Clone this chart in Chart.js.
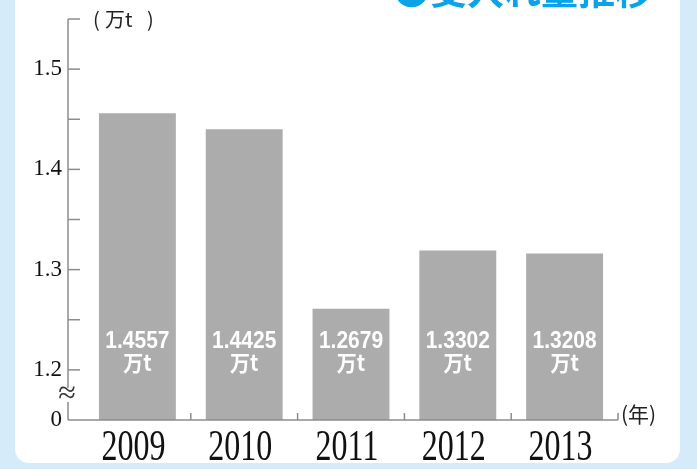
<!DOCTYPE html>
<html>
<head>
<meta charset="utf-8">
<script src="https://cdn.jsdelivr.net/npm/chart.js@4"></script>
<style>
  html, body { margin: 0; padding: 0; background: #d5ebfa; }
  #wrap { position: relative; width: 697px; height: 469px; overflow: hidden; }
  #panel { position: absolute; left: 15px; top: -30px; width: 665px; height: 493px;
           background: #fff; border-radius: 14px; }
  #chartBox { position: absolute; left: 0; top: 0; width: 697px; height: 469px; }
</style>
</head>
<body>
<div id="wrap">
  <div id="panel"></div>
  <div id="chartBox"><canvas id="acceptChart" width="697" height="469"></canvas></div>
</div>
<script>
// 受入れ量推移 (万t)
var years = ['2009', '2010', '2011', '2012', '2013'];
var barHeights = [1.456, 1.440, 1.261, 1.319, 1.316];   // as drawn in the picture
var barLabels = ['1.4557', '1.4425', '1.2679', '1.3302', '1.3208'];
var yLabels = { 115: '0', 120: '1.2', 130: '1.3', 140: '1.4', 150: '1.5' };

var axisColor = '#8c8c8c';

// axis lines, tick marks, labels drawn over the library scales
var decorPlugin = {
    id: 'decor',
    afterDatasetsDraw: function (chart) {
        var ctx = chart.ctx;
        var x = chart.scales.x, y = chart.scales.y;
        var area = chart.chartArea;
        var axisX = area.left - 16;
        ctx.save();
        ctx.strokeStyle = axisColor;
        ctx.lineWidth = 1.5;

        // y axis line
        ctx.beginPath();
        ctx.moveTo(axisX, y.getPixelForValue(1.55));
        ctx.lineTo(axisX, area.bottom);
        ctx.stroke();
        // y tick marks (major + minor), pointing right
        y.ticks.forEach(function (t) {
            var v = Math.round(t.value * 100);
            if (v < 120) return;
            var py = y.getPixelForValue(t.value);
            ctx.beginPath();
            ctx.moveTo(axisX, py);
            ctx.lineTo(axisX + 12, py);
            ctx.stroke();
        });

        // baseline with small up ticks between categories
        ctx.beginPath();
        ctx.moveTo(axisX, area.bottom);
        ctx.lineTo(area.right, area.bottom);
        ctx.stroke();
        var half = (x.getPixelForValue(1) - x.getPixelForValue(0)) / 2;
        for (var i = 0; i < years.length; i++) {
            var bx = x.getPixelForValue(i) + half;
            ctx.beginPath();
            ctx.moveTo(bx, area.bottom);
            ctx.lineTo(bx, area.bottom - 7);
            ctx.stroke();
        }

        // break mark
        var by = y.getPixelForValue(1.175);
        ctx.fillStyle = '#fff';
        ctx.fillRect(axisX - 3, by - 7, 6, 14);
        ctx.fillStyle = '#333';
        ctx.font = '32px "Liberation Serif"';
        ctx.textAlign = 'center';
        ctx.textBaseline = 'middle';
        ctx.fillText('\u2248', axisX - 1, by);

        // value labels inside bars
        var meta = chart.getDatasetMeta(0);
        ctx.fillStyle = '#fff';
        meta.data.forEach(function (bar, i) {
            ctx.save();
            ctx.translate(bar.x, area.bottom - 78);
            ctx.scale(1, 1.1);
            ctx.font = 'bold 21px "Liberation Sans"';
            ctx.fillText(barLabels[i], 0, 0);
            ctx.restore();
            ctx.save();
            ctx.translate(bar.x, area.bottom - 57);
            ctx.scale(1, 1.1);
            ctx.font = 'bold 20px "Noto Sans CJK JP"';
            ctx.fillText('万t', 0, 0);
            ctx.restore();
        });

        // year labels
        ctx.fillStyle = '#111';
        meta.data.forEach(function (bar, i) {
            ctx.save();
            ctx.translate(bar.x - 4, area.bottom + 28);
            ctx.scale(1, 1.4);
            ctx.font = '32px "Liberation Serif"';
            ctx.fillText(years[i], 0, 0);
            ctx.restore();
        });

        // unit labels
        ctx.fillStyle = '#222';
        ctx.textBaseline = 'middle';
        ctx.textAlign = 'left';
        ctx.font = '20px "Noto Sans CJK JP"';
        ctx.fillText('(', axisX + 25, 19);
        ctx.fillText('万t', axisX + 37, 19);
        ctx.fillText(')', axisX + 79, 19);
        ctx.font = '21px "Noto Sans CJK JP"';
        ctx.fillText('(年)', area.right + 3, area.bottom - 6);

        // title, cut at the top edge
        ctx.fillStyle = '#0aa2e8';
        ctx.textBaseline = 'alphabetic';
        ctx.font = 'bold 37px "Noto Sans CJK JP"';
        ctx.fillText('\u25CF受入れ量推移', 393, 5);
        ctx.restore();
    }
};

var ctx = document.getElementById('acceptChart').getContext('2d');
var acceptChart = new Chart(ctx, {
    type: 'bar',
    data: {
        labels: years,
        datasets: [{
            data: barHeights,
            backgroundColor: '#acacac',
            borderWidth: 0,
            barPercentage: 0.72,
            categoryPercentage: 1
        }]
    },
    options: {
        responsive: false,
        animation: false,
        layout: { padding: { top: 19, right: 79, left: 0, bottom: 0 } },
        plugins: { legend: { display: false }, tooltip: { enabled: false } },
        scales: {
            x: {
                grid: { display: false, drawTicks: false },
                border: { display: false },
                ticks: { display: false },
                afterFit: function (s) {
                    s.height = 49;
                    s.paddingLeft = 0; s.paddingRight = 0;
                }
            },
            y: {
                min: 1.15,
                max: 1.55,
                grid: { display: false, drawTicks: false, tickLength: 0 },
                border: { display: false },
                ticks: {
                    stepSize: 0.05,
                    padding: 22,
                    color: '#111',
                    font: { family: 'Liberation Serif', size: 23 },
                    callback: function (v) {
                        var k = Math.round(v * 100);
                        return yLabels[k] || '';
                    }
                },
                afterFit: function (s) {
                    s.width = 84;
                    s.paddingTop = 0; s.paddingBottom = 0;
                }
            }
        }
    },
    plugins: [decorPlugin]
});
</script>
</body>
</html>
